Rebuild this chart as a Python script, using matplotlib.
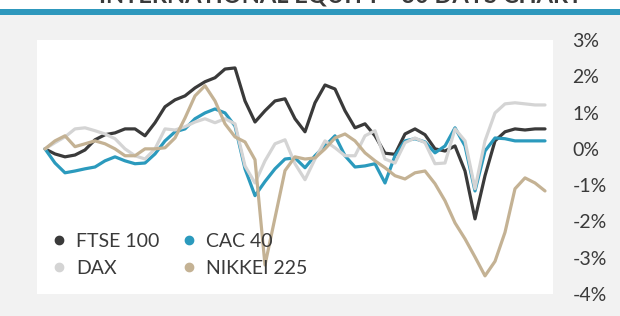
import numpy as np
import matplotlib.pyplot as plt
from matplotlib.lines import Line2D
from matplotlib.ticker import FuncFormatter

TITLE = 'INTERNATIONAL EQUITY - 30 DAYS CHART'
SERIES_NAMES = ['FTSE 100', 'CAC 40', 'DAX', 'NIKKEI 225']
COLORS = ['#3a3a3a', '#2b9abd', '#d4d4d4', '#c4b294']

# daily % change over the window
ftse = [0.00, -0.14, -0.22, -0.17, -0.03, 0.25, 0.39, 0.44, 0.55, 0.55,
        0.36, 0.72, 1.16, 1.35, 1.46, 1.68, 1.85, 1.96, 2.20, 2.23,
        1.32, 0.74, 1.05, 1.32, 1.38, 0.83, 0.47, 1.27, 1.76, 1.65,
        1.05, 0.58, 0.69, 0.36, -0.12, -0.15, 0.41, 0.55, 0.39, 0.00,
        -0.06, 0.08, -0.61, -1.93, -0.74, 0.22, 0.47, 0.55, 0.52, 0.55,
        0.55]
cac = [0.00, -0.39, -0.66, -0.61, -0.55, -0.50, -0.33, -0.22, -0.33, -0.41,
       -0.39, -0.14, 0.22, 0.47, 0.55, 0.83, 0.99, 1.10, 0.99, 0.63,
       -0.55, -1.29, -0.90, -0.55, -0.28, -0.25, -0.52, -0.19, 0.08, 0.36,
       -0.19, -0.50, -0.47, -0.41, -0.94, -0.19, 0.22, 0.28, 0.19, -0.11,
       0.08, 0.58, 0.08, -1.16, -0.06, 0.30, 0.28, 0.22, 0.22, 0.22,
       0.22]
dax = [0.00, 0.17, 0.33, 0.55, 0.58, 0.50, 0.41, 0.28, 0.00, -0.19,
       -0.28, 0.00, 0.55, 0.52, 0.61, 0.74, 0.83, 0.72, 0.83, 0.69,
       -0.47, -0.94, -0.33, 0.14, 0.25, -0.41, -0.85, -0.28, 0.22, 0.03,
       -0.19, -0.19, 0.36, 0.50, -0.28, -0.39, 0.17, 0.30, 0.17, -0.41,
       -0.39, 0.55, 0.22, -1.10, 0.22, 0.99, 1.24, 1.27, 1.24, 1.21,
       1.21]
nikkei = [0.00, 0.22, 0.36, 0.06, 0.14, 0.22, 0.14, 0.00, -0.19, -0.19,
          0.00, 0.00, 0.03, 0.30, 0.85, 1.46, 1.74, 1.32, 0.69, 0.33,
          0.19, -0.30, -3.20, -1.90, -0.60, -0.22, -0.28, -0.25, 0.00, 0.30,
          0.41, 0.22, -0.11, -0.33, -0.52, -0.74, -0.83, -0.66, -0.61, -0.96,
          -1.43, -2.04, -2.48, -2.98, -3.50, -3.10, -2.30, -1.10, -0.80, -0.94,
          -1.16]

days = np.arange(len(ftse))
y_ticks = [3, 2, 1, 0, -1, -2, -3, -4]

fig = plt.figure(figsize=(6.2, 3.16), dpi=100)
fig.patch.set_facecolor('#f2f2f2')

# white strip + teal band at the top, title mostly cut off
fig.patches.append(plt.Rectangle((0, 1 - 9 / 316), 1, 9 / 316, transform=fig.transFigure,
                                 facecolor='white', edgecolor='none'))
fig.patches.append(plt.Rectangle((0, 1 - 15 / 316), 1, 6 / 316, transform=fig.transFigure,
                                 facecolor='#2e98bd', edgecolor='none'))
fig.text(0.55, 1 - 3 / 316, TITLE, ha='center', va='baseline', fontsize=17,
         fontweight='bold', color='#3a3a3a', family='Lato')

ax = fig.add_axes([37 / 620, 22 / 316, 516 / 620, 254 / 316])
ax.set_facecolor('white')

for vals, name, col in zip([ftse, cac, dax, nikkei], SERIES_NAMES, COLORS):
    ax.plot(days, vals, color=col, lw=2.3, solid_joinstyle='round',
            solid_capstyle='round', label=name)

ax.set_xlim(-0.8, len(days) - 1 + 0.8)
ax.set_ylim(-4, 3)
ax.set_yticks(y_ticks)
ax.yaxis.tick_right()
ax.yaxis.set_major_formatter(FuncFormatter(lambda v, p: f'{int(v)}%'))
ax.tick_params(axis='y', length=0, pad=14, labelsize=14, labelcolor='#3a3a3a')
for lab in ax.get_yticklabels():
    lab.set_family('Lato')
ax.set_xticks([])
for s in ax.spines.values():
    s.set_visible(False)

handles = [Line2D([], [], ls='none', marker='o', ms=6, color=c) for c in COLORS]
order = [0, 2, 1, 3]
leg = ax.legend([handles[i] for i in order], [SERIES_NAMES[i] for i in order],
                ncol=2, loc='lower left', bbox_to_anchor=(0.0, 0.0),
                frameon=False, handlelength=0.5, handletextpad=0.6,
                columnspacing=1.3, labelspacing=0.5,
                prop={'family': 'Lato', 'size': 14})
for t in leg.get_texts():
    t.set_color('#3a3a3a')

fig.savefig('out.png', dpi=100, facecolor=fig.get_facecolor())
